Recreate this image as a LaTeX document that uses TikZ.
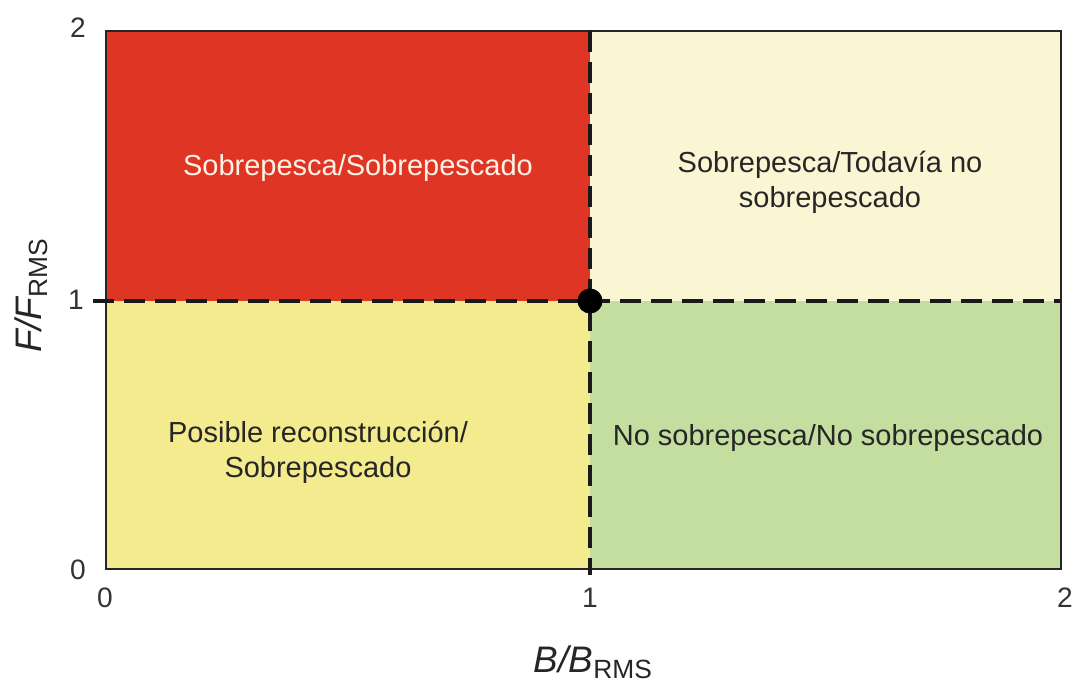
\documentclass[tikz,border=0pt]{standalone}
\usepackage{fontspec}
\setmainfont{Liberation Sans}
\usepackage{tikz}
\usetikzlibrary{backgrounds}

\definecolor{overred}{HTML}{DE3524}
\definecolor{pale}{HTML}{FAF6D4}
\definecolor{rebuild}{HTML}{F3EB8D}
\definecolor{okgreen}{HTML}{C4DEA0}
\definecolor{frame}{HTML}{262626}

\tikzset{
  celltext/.style={font=\fontsize{16.5}{20}\selectfont, align=center, text=black!85},
  ticklabel/.style={font=\fontsize{16}{18}\selectfont, text=black!80},
  axislabel/.style={font=\fontsize{21}{24}\selectfont, text=black!85},
  refline/.style={line width=2.3pt, dash pattern=on 0.42cm off 0.2cm, black!90}
}

\begin{document}
\begin{tikzpicture}
\useasboundingbox (0,0) rectangle (21.54,13.68);
\fill[white] (0,0) rectangle (21.54,13.68);
% cells
\fill[overred] (2.12,7.66) rectangle (11.80,13.06);
\fill[pale] (11.80,7.66) rectangle (21.22,13.06);
\fill[rebuild] (2.12,2.30) rectangle (11.80,7.66);
\fill[okgreen] (11.80,2.30) rectangle (21.22,7.66);
\draw[frame, line width=1.1pt] (2.12,2.30) rectangle (21.22,13.06);
% reference points
\coordinate (hl) at (1.86,7.66);
\coordinate (hr) at (21.22,7.66);
\coordinate (vt) at (11.80,13.06);
\coordinate (vb) at (11.80,2.18);
\draw[refline] (hl) -- (hr);
\draw[refline] (vt) -- (vb);
\fill[black] (11.80,7.66) circle (0.25);
% cell labels
\node[celltext, text=white!90!orange] (over) at (7.16,10.32) {Sobrepesca/Sobrepescado};
\node[celltext] (notyet) at (16.60,10.04) {Sobrepesca/Todavía no\\sobrepescado};
\node[celltext] (rebuilt) at (6.36,4.64) {Posible reconstrucción/\\Sobrepescado};
\node[celltext] (fine) at (16.56,4.92) {No sobrepesca/No sobrepescado};
% ticks
\node[ticklabel] (y2) at (1.56,13.12) {2};
\node[ticklabel] (y1) at (1.52,7.68) {1};
\node[ticklabel] (y0) at (1.56,2.28) {0};
\node[ticklabel] (x0) at (2.10,1.72) {0};
\node[ticklabel] (x1) at (11.80,1.72) {1};
\node[ticklabel] (x2) at (21.30,1.72) {2};
% axes
\node[axislabel] (xlab) at (11.86,0.44) {\itshape B/B\raisebox{-0.3ex}{\upshape\fontsize{15}{15}\selectfont RMS}};
\node[axislabel, rotate=90] (ylab) at (0.62,7.76) {\itshape F/F\raisebox{-0.3ex}{\upshape\fontsize{15}{15}\selectfont RMS}};
\end{tikzpicture}
\end{document}
